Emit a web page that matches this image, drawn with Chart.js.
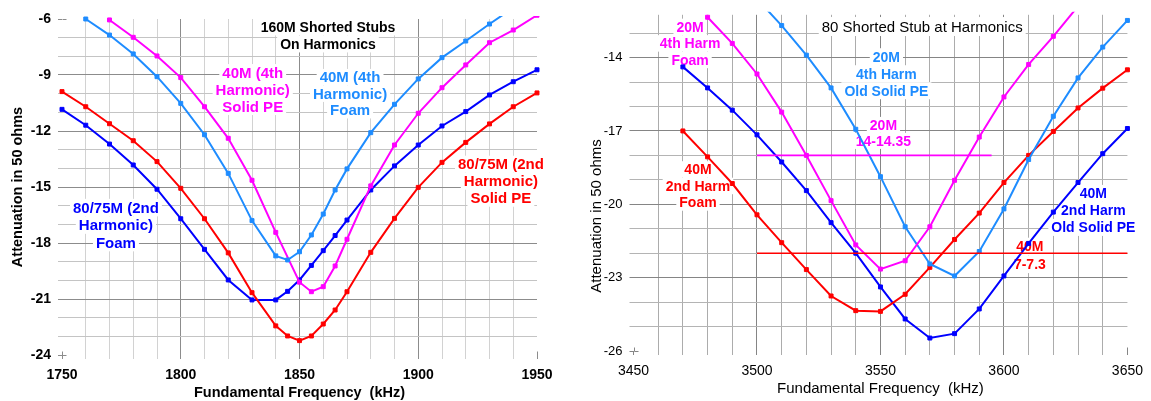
<!DOCTYPE html>
<html><head><meta charset="utf-8">
<script src="https://cdn.jsdelivr.net/npm/chart.js@4.4.1/dist/chart.umd.min.js"></script>
<style>
html,body{margin:0;padding:0;background:#fff;overflow:hidden}
#c1{position:absolute;left:0;top:0}
#c2{position:absolute;left:575px;top:0}
</style>
</head><body>
<canvas id="c1" width="575" height="401"></canvas>
<canvas id="c2" width="576" height="401"></canvas>
<script>
// ---------- LEFT CHART DATA (160M stubs) ----------
const leftFreqA = [1750,1760,1770,1780,1790,1800,1810,1820,1830,1840,1845,1850,1855,1860,1865,1870,1880,1890,1900,1910,1920,1930,1940,1950];
const left80Foam = [-10.84,-11.69,-12.70,-13.82,-15.12,-16.70,-18.34,-19.98,-21.05,-21.05,-20.59,-19.98,-19.20,-18.41,-17.60,-16.77,-15.16,-13.87,-12.75,-11.73,-10.96,-10.07,-9.36,-8.72];
const left80Solid = [-9.89,-10.70,-11.61,-12.52,-13.64,-15.07,-16.70,-18.53,-20.66,-22.44,-22.98,-23.23,-22.98,-22.34,-21.59,-20.61,-18.50,-16.68,-15.02,-13.68,-12.61,-11.62,-10.70,-9.96];
const leftFreqFoam40 = [1760,1770,1780,1790,1800,1810,1820,1830,1840,1845,1850,1855,1860,1865,1870,1880,1890,1900,1910,1920,1930,1940];
const left40Foam = [-6.00,-6.86,-7.87,-9.09,-10.52,-12.20,-14.27,-16.80,-18.69,-18.91,-18.47,-17.57,-16.45,-15.16,-14.03,-12.09,-10.57,-9.21,-8.07,-7.18,-6.27,-5.40];
const leftFreqSolid40 = [1770,1780,1790,1800,1810,1820,1830,1840,1850,1855,1860,1865,1870,1880,1890,1900,1910,1920,1930,1940,1950];
const left40Solid = [-6.05,-6.98,-7.98,-9.14,-10.70,-12.39,-14.64,-17.43,-20.10,-20.61,-20.34,-19.23,-17.80,-14.94,-12.75,-11.05,-9.68,-8.46,-7.27,-6.59,-5.80];
const leftXLabels = ['1750','1800','1850','1900','1950'];
const leftYLabels = ['-24','-21','-18','-15','-12','-9','-6'];

// ---------- RIGHT CHART DATA (80M stubs) ----------
const rightFreqA = [3470,3480,3490,3500,3510,3520,3530,3540,3550,3560,3570,3580,3590,3600,3610,3620,3630,3640,3650];
const right40Solid = [-14.38,-15.24,-16.15,-17.16,-18.27,-19.44,-20.75,-22.00,-23.38,-24.69,-25.47,-25.29,-24.28,-22.93,-21.60,-20.32,-19.11,-17.93,-16.90];
const right40Foam = [-17.00,-18.06,-19.15,-20.43,-21.57,-22.67,-23.75,-24.35,-24.38,-23.68,-22.58,-21.44,-20.36,-19.11,-18.00,-17.02,-16.06,-15.25,-14.50];
const rightFreq20Solid = [3500,3510,3520,3530,3540,3550,3560,3570,3580,3590,3600,3610,3620,3630,3640,3650];
const right20Solid = [-11.60,-12.69,-13.90,-15.24,-16.93,-18.87,-20.92,-22.44,-22.93,-21.93,-20.19,-18.17,-16.40,-14.83,-13.57,-12.48];
const rightFreq20Foam = [3480,3490,3500,3510,3520,3530,3540,3550,3560,3570,3580,3590,3600,3610,3620,3630];
const right20Foam = [-12.35,-13.42,-14.67,-16.23,-18.00,-19.85,-21.66,-22.65,-22.31,-20.92,-19.02,-17.25,-15.61,-14.28,-13.13,-11.90];
const band20Freq = [3500,3595];
const band20Level = [-18,-18];
const band40Freq = [3500,3650];
const band40Level = [-22,-22];
const rightXLabels = ['3450','3500','3550','3600','3650'];
const rightYLabels = ['-26','-23','-20','-17','-14'];

// ---------- helpers ----------
const FONT = '"Liberation Sans", Arial, Helvetica, sans-serif';
Chart.defaults.font.family = FONT;
const BLUE = '#0000ff', RED = '#ff0000', MAG = '#ff00ff', LBLUE = '#1e8cff';
const pts = (xs, ys) => xs.map((x, i) => ({x, y: ys[i]}));
const steps = (a, b, s) => { const r = []; for (let v = a; v <= b + 1e-9; v += s) r.push(Math.round(v * 100) / 100); return r; };

function series(label, xs, ys, color, withPoints = true) {
  return {
    label, data: pts(xs, ys), borderColor: color, backgroundColor: color,
    borderWidth: 2, tension: 0, pointStyle: 'rect',
    pointRadius: withPoints ? 2.8 : 0, pointBorderWidth: 1, pointHoverRadius: 0,
    clip: {left: 5, right: 5, top: 3, bottom: 5}
  };
}

function axisGrid(labels, min, max, maj, minC) {
  const isMaj = v => labels.includes(String(v));
  return {
    grid: {
      color: c => (c.tick && (c.tick.value === min || c.tick.value === max)) ? 'rgba(0,0,0,0)' : (isMaj(c.tick.value) ? maj : minC),
      tickColor: c => isMaj(c.tick.value) || c.tick.value === min || c.tick.value === max ? maj : minC,
      lineWidth: 1, tickLength: 4, drawOnChartArea: true
    },
    border: {display: false}
  };
}

const decor = {
  id: 'decor',
  beforeDatasetsDraw(chart, args, o) {
    const {ctx, chartArea: a, scales: {x, y}} = chart;
    ctx.save();
    // corner cross arms
    ctx.strokeStyle = o.crossColor; ctx.lineWidth = 1;
    ctx.beginPath();
    const L = Math.round(a.left) + 0.5, B = Math.round(a.bottom) + 0.5, R = Math.round(a.right) + 0.5, T = Math.round(a.top) + 0.5;
    ctx.moveTo(L, B); ctx.lineTo(L + 4, B);
    ctx.moveTo(L, B); ctx.lineTo(L, B - 4);
    ctx.moveTo(R, B); ctx.lineTo(R, B - 4);
    if (o.topCross) { ctx.moveTo(L, T); ctx.lineTo(L + 4, T); }
    ctx.stroke();
    // annotation labels with white boxes
    ctx.textAlign = 'center'; ctx.textBaseline = 'middle';
    for (const lab of o.labels) {
      ctx.font = lab.font;
      const cx = x.getPixelForValue(lab.at[0]);
      const cy = y.getPixelForValue(lab.at[1]);
      const n = lab.lines.length;
      const ys = lab.lines.map((t, i) => cy + (i - (n - 1) / 2) * lab.lh);
      if (lab.box !== false) {
        ctx.fillStyle = '#fff';
        lab.lines.forEach((t, i) => {
          const w = ctx.measureText(t).width;
          ctx.fillRect(cx - w / 2 - 3, ys[i] - lab.lh / 2, w + 6, lab.lh);
        });
      }
      ctx.fillStyle = lab.color;
      lab.lines.forEach((t, i) => ctx.fillText(t, cx, ys[i] + 1));
    }
    ctx.restore();
  },
  afterDraw(chart, args, o) {
    const {ctx, chartArea: a} = chart;
    ctx.save();
    ctx.fillStyle = '#000';
    ctx.textAlign = 'center'; ctx.textBaseline = 'middle';
    ctx.font = o.titleFont;
    ctx.fillText(o.xTitle, (a.left + a.right) / 2, o.xTitleY);
    ctx.translate(o.yTitleX, o.yTitleY);
    ctx.rotate(-Math.PI / 2);
    ctx.fillText(o.yTitle, 0, 0);
    ctx.restore();
  }
};

function makeChart(el, cfg) {
  const xAx = axisGrid(cfg.xLabels, cfg.xMin, cfg.xMax, cfg.maj, cfg.minV);
  const yAx = axisGrid(cfg.yLabels, cfg.yMin, cfg.yMax, cfg.maj, cfg.minH);
  return new Chart(el, {
    type: 'line',
    data: {datasets: cfg.datasets},
    plugins: [decor],
    options: {
      responsive: false, animation: false, devicePixelRatio: 1,
      layout: {padding: cfg.padding},
      plugins: {legend: {display: false}, tooltip: {enabled: false}, decor: cfg.decor},
      scales: {
        x: Object.assign({
          type: 'linear', min: cfg.xMin, max: cfg.xMax,
          afterBuildTicks: s => { s.ticks = cfg.xGrid.map(v => ({value: v})); },
          afterFit: s => { s.height = cfg.xHeight; },
          ticks: {autoSkip: false, maxRotation: 0, padding: 8, color: '#000', font: cfg.tickFontX,
            callback: v => cfg.xLabels.includes(String(v)) ? String(v) : ''}
        }, xAx),
        y: Object.assign({
          type: 'linear', min: cfg.yMin, max: cfg.yMax,
          afterBuildTicks: s => { s.ticks = cfg.yGrid.map(v => ({value: v})); },
          afterFit: s => { s.width = cfg.yWidth; },
          ticks: {autoSkip: false, padding: 7, color: '#000', font: cfg.tickFontY,
            callback: v => cfg.yLabels.includes(String(v)) ? String(v) : ''}
        }, yAx)
      }
    }
  });
}

// ---------- LEFT ----------
makeChart(document.getElementById('c1'), {
  xMin: 1750, xMax: 1950, yMin: -24, yMax: -6,
  xGrid: steps(1750, 1950, 10), yGrid: steps(-24, -6, 1),
  xLabels: leftXLabels, yLabels: leftYLabels,
  maj: '#8c8c8c', minV: '#d2d2d2', minH: '#c4c4c4',
  padding: {top: 19, right: 38, left: 0, bottom: 0},
  xHeight: 46, yWidth: 62,
  tickFontX: {size: 14, weight: 'bold'}, tickFontY: {size: 14, weight: 'bold'},
  datasets: [
    series('40M (4th Harmonic) Foam', leftFreqFoam40, left40Foam, LBLUE),
    series('40M (4th Harmonic) Solid PE', leftFreqSolid40, left40Solid, MAG),
    series('80/75M (2nd Harmonic) Solid PE', leftFreqA, left80Solid, RED),
    series('80/75M (2nd Harmonic) Foam', leftFreqA, left80Foam, BLUE)
  ],
  decor: {
    crossColor: '#8c8c8c', topCross: true,
    titleFont: 'bold 14.5px ' + FONT,
    xTitle: 'Fundamental Frequency  (kHz)', xTitleY: 393,
    yTitle: 'Attenuation in 50 ohms', yTitleX: 18, yTitleY: 187,
    labels: [
      {lines: ['160M Shorted Stubs', 'On Harmonics'], at: [1862, -6.88], lh: 17, font: 'bold 14px ' + FONT, color: '#000'},
      {lines: ['40M (4th', 'Harmonic)', 'Solid PE'], at: [1830.3, -9.78], lh: 17, font: 'bold 15px ' + FONT, color: MAG},
      {lines: ['40M (4th', 'Harmonic)', 'Foam'], at: [1871.3, -10.0], lh: 16.5, font: 'bold 15px ' + FONT, color: LBLUE},
      {lines: ['80/75M (2nd', 'Harmonic)', 'Solid PE'], at: [1934.8, -14.69], lh: 17, font: 'bold 15px ' + FONT, color: RED},
      {lines: ['80/75M (2nd', 'Harmonic)', 'Foam'], at: [1772.7, -17.04], lh: 17.5, font: 'bold 15px ' + FONT, color: BLUE}
    ]
  }
});

// ---------- RIGHT ----------
const band = (label, xs, ys, color) => Object.assign(series(label, xs, ys, color, false), {borderWidth: 1.6});
makeChart(document.getElementById('c2'), {
  xMin: 3450, xMax: 3650, yMin: -26, yMax: -12.25,
  xGrid: steps(3450, 3650, 10), yGrid: steps(-26, -13, 1),
  xLabels: rightXLabels, yLabels: rightYLabels,
  maj: '#858585', minV: '#acacac', minH: '#b4b4b4',
  padding: {top: 10, right: 15, left: 0, bottom: 0},
  xHeight: 50, yWidth: 58.5,
  tickFontX: {size: 14}, tickFontY: {size: 13},
  datasets: [
    band('20M 14-14.35', band20Freq, band20Level, MAG),
    band('40M 7-7.3', band40Freq, band40Level, RED),
    series('20M 4th Harm Foam', rightFreq20Foam, right20Foam, MAG),
    series('20M 4th Harm Old Solid PE', rightFreq20Solid, right20Solid, LBLUE),
    series('40M 2nd Harm Foam', rightFreqA, right40Foam, RED),
    series('40M 2nd Harm Old Solid PE', rightFreqA, right40Solid, BLUE)
  ],
  decor: {
    crossColor: '#858585', topCross: false,
    titleFont: '15px ' + FONT,
    xTitle: 'Fundamental Frequency  (kHz)', xTitleY: 389,
    yTitle: 'Attenuation in 50 ohms', yTitleX: 22, yTitleY: 216,
    labels: [
      {lines: ['80 Shorted Stub at Harmonics'], at: [3566.9, -12.73], lh: 19, font: '15px ' + FONT, color: '#000'},
      {lines: ['20M', '4th Harm', 'Foam'], at: [3472.9, -13.42], lh: 16.5, font: 'bold 14px ' + FONT, color: MAG},
      {lines: ['20M', '4th Harm', 'Old Solid PE'], at: [3552.4, -14.66], lh: 17, font: 'bold 14px ' + FONT, color: LBLUE},
      {lines: ['20M', '14-14.35'], at: [3551.2, -17.08], lh: 16, font: 'bold 14px ' + FONT, color: MAG},
      {lines: ['40M', '2nd Harm', 'Foam'], at: [3476.1, -19.25], lh: 16.5, font: 'bold 14px ' + FONT, color: RED},
      {lines: ['40M', '7-7.3'], at: [3610.5, -22.09], lh: 17.7, font: 'bold 14px ' + FONT, color: RED},
      {lines: ['40M', '2nd Harm', 'Old Solid PE'], at: [3636.2, -20.25], lh: 17, font: 'bold 14px ' + FONT, color: BLUE}
    ]
  }
});
</script>
</body></html>
